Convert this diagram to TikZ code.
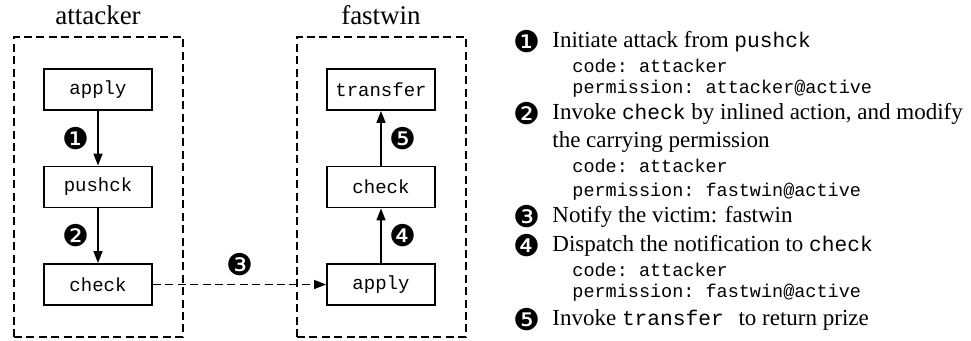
\documentclass[tikz,border=0pt]{standalone}
\usepackage{fontspec}
\setmainfont{Liberation Serif}
\setmonofont{Liberation Mono}
\newfontfamily\dingfont{DejaVu Sans}
\newcommand{\fn}[1]{{\fontsize{10.6}{13}\ttfamily #1}}
\usetikzlibrary{arrows.meta,positioning}
\tikzset{
  func/.style={draw,line width=0.95pt,minimum width=54pt,minimum height=20.5pt,inner sep=0pt,font=\fontsize{9.5}{11}\ttfamily},
  contract/.style={draw,line width=0.85pt,dash pattern=on 4pt off 2.2pt,minimum width=84.5pt,minimum height=150pt,inner sep=0pt},
  title/.style={anchor=base,font=\fontsize{13.5}{16}\selectfont},
  flow/.style={line width=0.75pt,-{Triangle[length=6pt,width=4.5pt]}},
  stepnum/.style={inner sep=0pt,font=\dingfont\fontsize{15}{17}\selectfont},
  desc/.style={anchor=base west,inner sep=0pt,align=left,font=\fontsize{11.5}{14.2}\selectfont},
  detail/.style={anchor=base west,inner sep=0pt,font=\fontsize{9.25}{11}\ttfamily},
}
\begin{document}
\begin{tikzpicture}[x=0.5pt,y=-0.5pt]
\useasboundingbox (0,0) rectangle (971,341);
\node[contract] (atk) at (98.5,187) {};
\node[contract] (vic) at (381.5,187) {};
\node[title] (atktitle) at (98,25) {attacker};
\node[title] (victitle) at (381,25) {fastwin};
\node[func] (apply1) at (98,89.5) {apply};
\node[func] (pushck) at (98,187) {pushck};
\node[func] (check1) at (98,284.5) {check};
\node[func] (transfer) at (381,89.5) {transfer};
\node[func] (check2) at (381,187) {check};
\node[func] (apply2) at (381,284.5) {apply};
\draw[flow] (apply1) -- node[stepnum,left=4pt] {❶} (pushck);
\draw[flow] (pushck) -- node[stepnum,left=4pt] {❷} (check1);
\draw[flow,dash pattern=on 4pt off 2.2pt] (check1) -- node[stepnum,above=4pt] {❸} (apply2);
\draw[flow] (apply2) -- node[stepnum,right=4pt] {❹} (check2);
\draw[flow] (check2) -- node[stepnum,right=4pt] {❺} (transfer);
\node[stepnum] (b1) at (527,42) {❶};
\node[desc] (d1) at (552,48) {Initiate attack from \fn{pushck}};
\node[detail] (d1a) at (572,73) {code: attacker};
\node[detail] (d1b) at (572,94) {permission: attacker@active};
\node[stepnum] (b2) at (527,114) {❷};
\node[desc] (d2) at (552,148) {Invoke \fn{check} by inlined action, and modify\\the carrying permission};
\node[detail] (d2a) at (572,173) {code: attacker};
\node[detail] (d2b) at (572,197) {permission: fastwin@active};
\node[stepnum] (b3) at (527,217) {❸};
\node[desc] (d3) at (552,223) {Notify the victim: fastwin};
\node[stepnum] (b4) at (527,246) {❹};
\node[desc] (d4) at (552,252) {Dispatch the notification to \fn{check}};
\node[detail] (d4a) at (572,277) {code: attacker};
\node[detail] (d4b) at (572,298) {permission: fastwin@active};
\node[stepnum] (b5) at (527,320) {❺};
\node[desc] (d5) at (552,326) {Invoke \fn{transfer}\hspace{4.5pt} to return prize};
\end{tikzpicture}
\end{document}
